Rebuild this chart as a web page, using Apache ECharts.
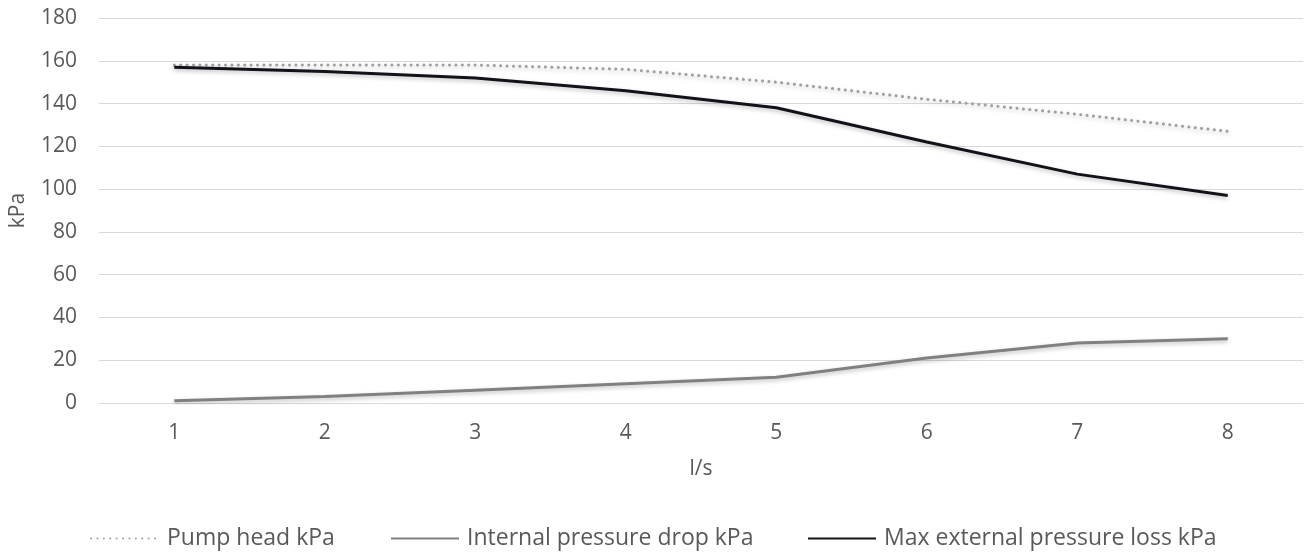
<!DOCTYPE html>
<html>
<head>
<meta charset="utf-8">
<script src="https://cdn.jsdelivr.net/npm/echarts@6/dist/echarts.min.js"></script>
<style>html,body{margin:0;padding:0;background:#fff}#c{width:1309px;height:556px}</style>
</head>
<body>
<div id="c"></div>
<script>
const categories = ['1','2','3','4','5','6','7','8'];
const pumpHead = [158, 158, 158, 156, 150, 142, 135, 127];
const internalDrop = [1, 3, 6, 9, 12, 21, 28, 30];
const maxExternal = [157, 155, 152, 146, 138, 122, 107, 97];
const seriesNames = ['Pump head kPa', 'Internal pressure drop kPa', 'Max external pressure loss kPa'];

const FONT = '"Open Sans"';
const TXT = '#595959';
const FS = 21;
const chart = echarts.init(document.getElementById('c'), null, {renderer: 'canvas'});
const shadow = {shadowColor: 'rgba(0,0,0,0.25)', shadowBlur: 4, shadowOffsetY: 2};
function legend(name, left) {
  return {
    data: [name], left: left, top: 527, padding: 0, itemWidth: 68, itemHeight: 14, itemGap: 0,
    itemStyle: {opacity: 0},
    textStyle: {color: TXT, fontFamily: FONT, fontWeight: 400, fontSize: 23, padding: [0, 0, 0, 3]}
  };
}
chart.setOption({
  animation: false,
  grid: {left: 99, right: 6, top: 18, bottom: 153},
  legend: [legend(seriesNames[0], 90), legend(seriesNames[1], 390), legend(seriesNames[2], 807)],
  xAxis: {
    type: 'category', data: categories, boundaryGap: true,
    name: 'l/s', nameLocation: 'middle', nameGap: 56,
    nameTextStyle: {color: TXT, fontFamily: FONT, fontSize: FS},
    axisLine: {lineStyle: {color: '#d9d9d9', width: 1}},
    axisTick: {show: false},
    axisLabel: {color: TXT, fontFamily: FONT, fontSize: FS, margin: 20}
  },
  yAxis: {
    type: 'value', min: 0, max: 180, interval: 20,
    name: 'kPa', nameLocation: 'middle', nameGap: 70, nameRotate: 90,
    nameTextStyle: {color: TXT, fontFamily: FONT, fontSize: FS},
    axisLine: {show: false}, axisTick: {show: false},
    axisLabel: {color: TXT, fontFamily: FONT, fontSize: FS, margin: 22},
    splitLine: {lineStyle: {color: '#d9d9d9', width: 1}}
  },
  series: [
    {name: seriesNames[0], type: 'line', data: pumpHead, symbol: 'none',
     lineStyle: Object.assign({color: '#a0a0a0', width: 3, type: [0.1, 6.3], cap: 'round'}, shadow), itemStyle: {color: '#a0a0a0'}},
    {name: seriesNames[1], type: 'line', data: internalDrop, symbol: 'none',
     lineStyle: Object.assign({color: '#808080', width: 3}, shadow), itemStyle: {color: '#808080'}},
    {name: seriesNames[2], type: 'line', data: maxExternal, symbol: 'none',
     lineStyle: Object.assign({color: '#111318', width: 3}, shadow), itemStyle: {color: '#111318'}}
  ]
});
</script>
</body>
</html>
